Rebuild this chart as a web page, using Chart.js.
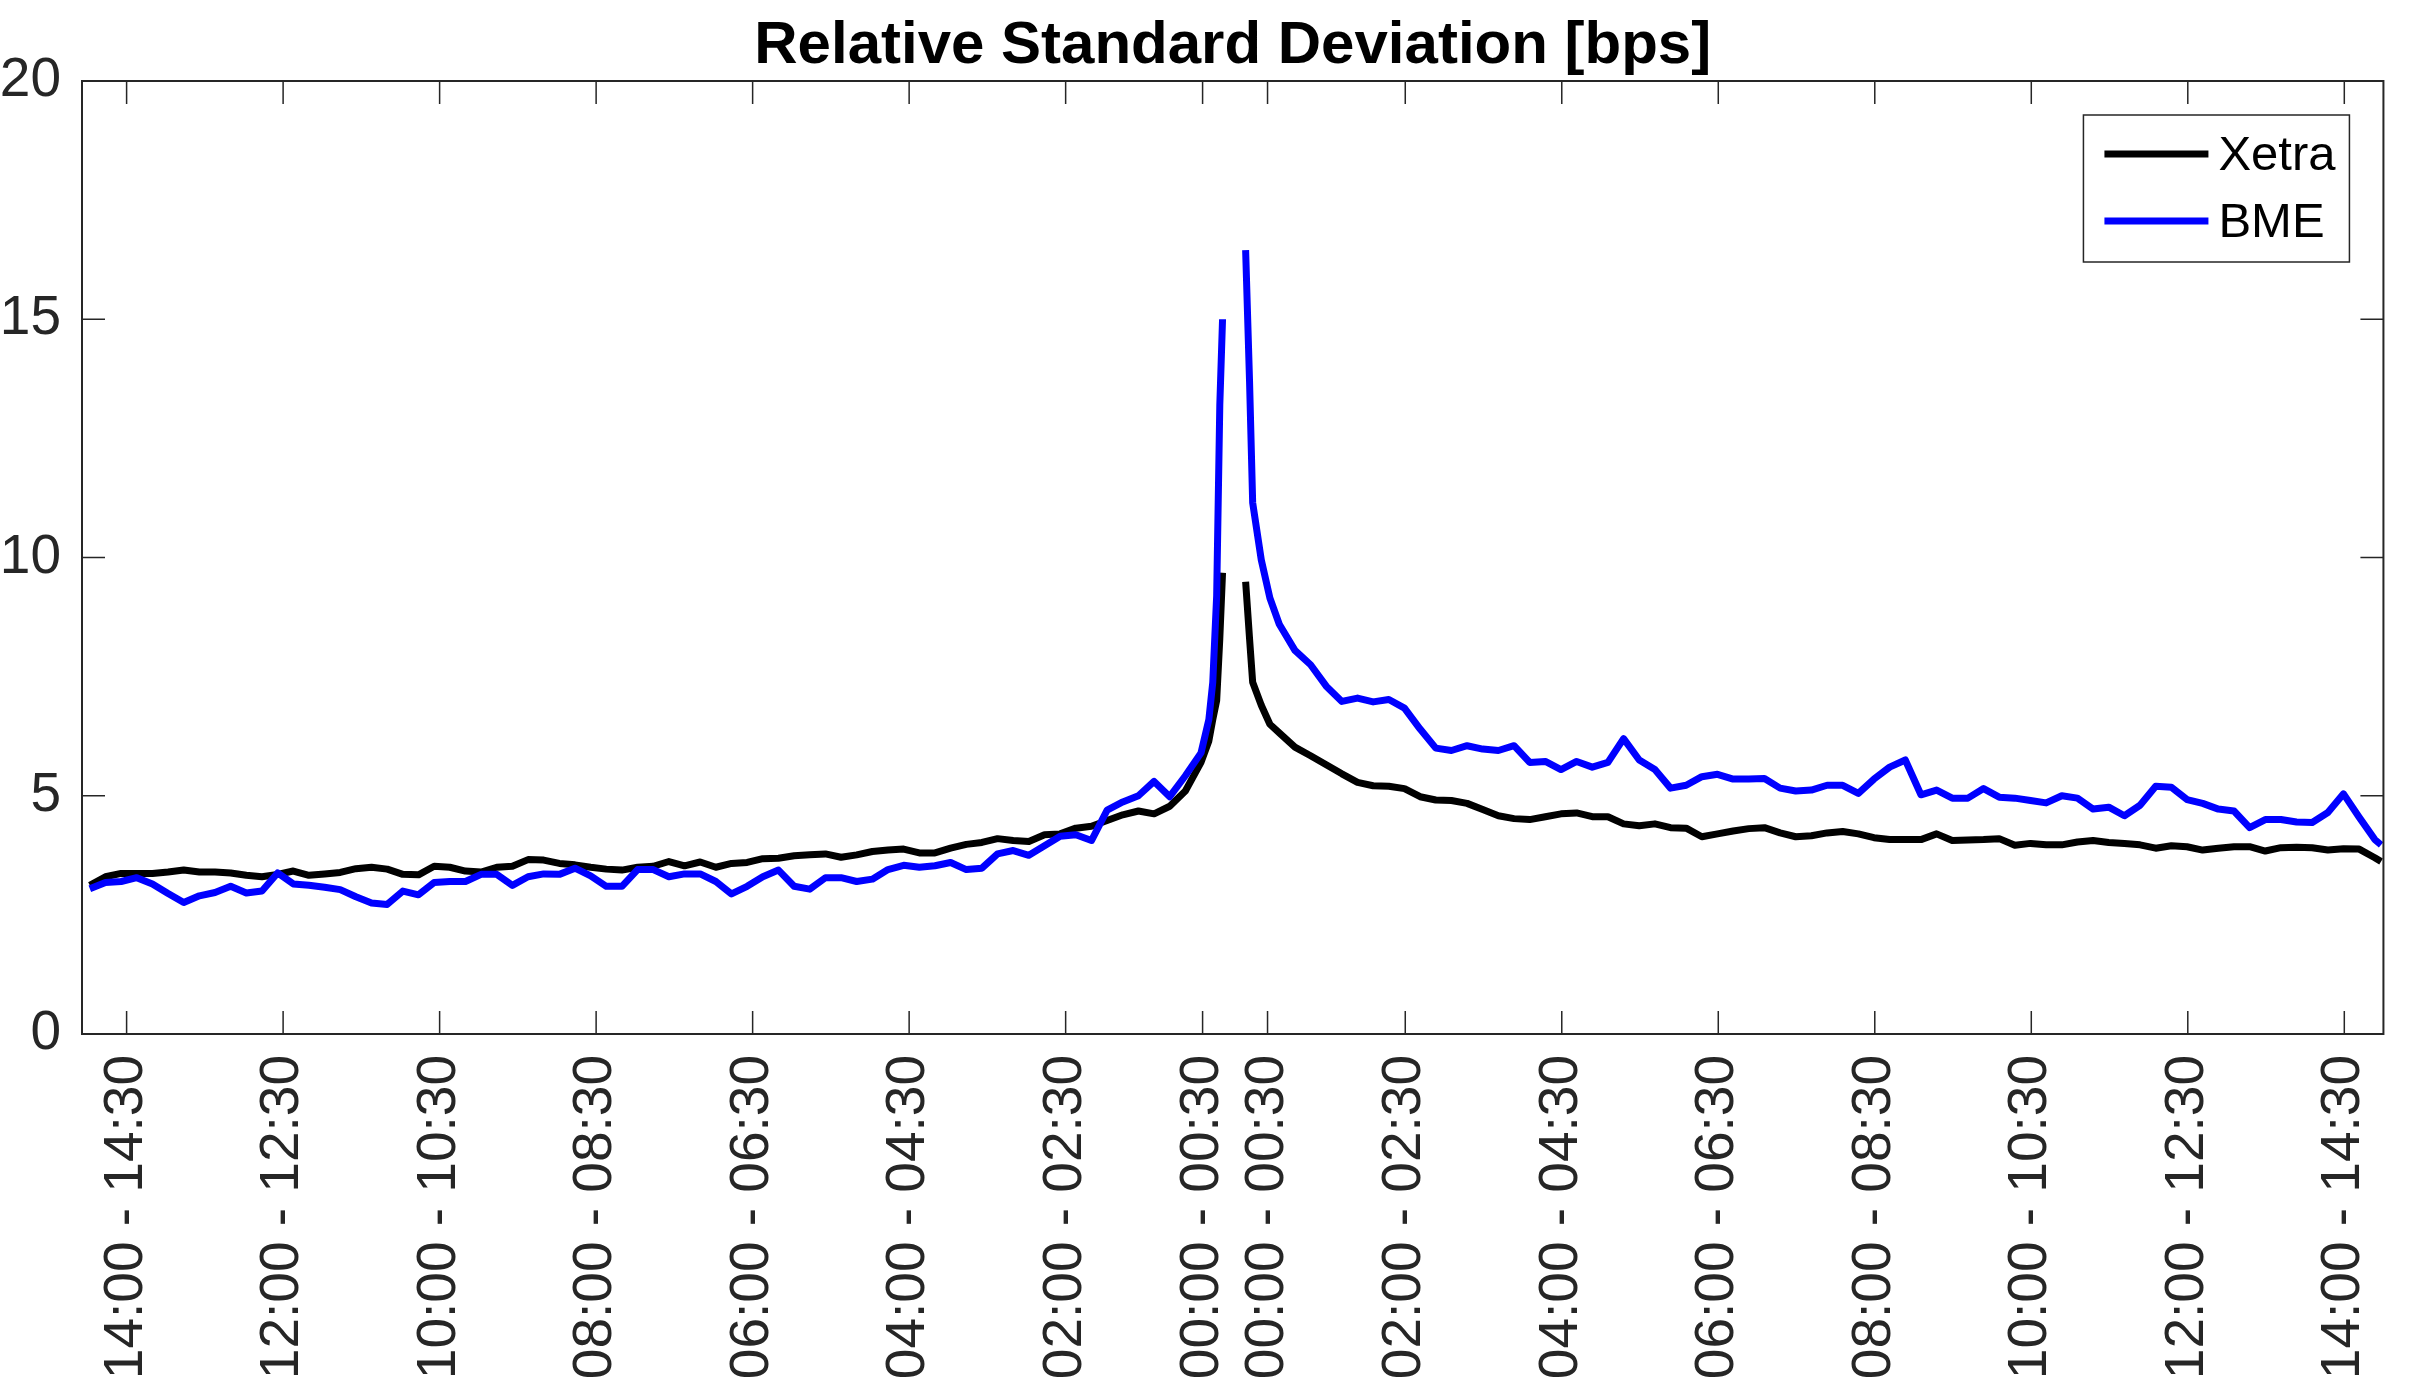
<!DOCTYPE html>
<html>
<head>
<meta charset="utf-8">
<script src="https://cdn.jsdelivr.net/npm/chart.js@4.4.1/dist/chart.umd.min.js"></script>
<style>
  html, body { margin: 0; padding: 0; background: #fff; }
  #wrap { width: 2432px; height: 1391px; }
</style>
</head>
<body>
<div id="wrap"><canvas id="rsd"></canvas></div>
<script>
// x axis runs in hours from the left edge of the plot
const tickHours = [0.57, 2.57, 4.57, 6.57, 8.57, 10.57, 12.57, 14.32,
                   15.15, 16.91, 18.91, 20.91, 22.91, 24.91, 26.91, 28.91];
const tickLabels = ['14:00 - 14:30', '12:00 - 12:30', '10:00 - 10:30', '08:00 - 08:30',
                    '06:00 - 06:30', '04:00 - 04:30', '02:00 - 02:30', '00:00 - 00:30',
                    '00:00 - 00:30', '02:00 - 02:30', '04:00 - 04:30', '06:00 - 06:30',
                    '08:00 - 08:30', '10:00 - 10:30', '12:00 - 12:30', '14:00 - 14:30'];
const chartTitle = 'Relative Standard Deviation [bps]';

// before the event (sampled every 0.2 h from 0.1 h), then the run-up to the spike
const xetraBefore = [3.12, 3.30, 3.37, 3.37, 3.37, 3.40, 3.44, 3.40, 3.40, 3.38,
                     3.33, 3.30, 3.35, 3.42, 3.33, 3.36, 3.39, 3.47, 3.50, 3.46,
                     3.35, 3.34, 3.52, 3.50, 3.42, 3.40, 3.50, 3.52, 3.66, 3.65,
                     3.58, 3.55, 3.50, 3.46, 3.44, 3.50, 3.52, 3.62, 3.53, 3.61,
                     3.50, 3.58, 3.60, 3.68, 3.69, 3.74, 3.76, 3.78, 3.71, 3.76,
                     3.83, 3.86, 3.88, 3.80, 3.80, 3.90, 3.98, 4.02, 4.10, 4.06,
                     4.04, 4.18, 4.20, 4.32, 4.36, 4.48, 4.60, 4.68, 4.62, 4.78,
                     5.10];
const bmeBefore = [3.05, 3.18, 3.20, 3.28, 3.15, 2.95, 2.76, 2.90, 2.97, 3.10,
                   2.96, 3.00, 3.38, 3.15, 3.12, 3.08, 3.03, 2.88, 2.75, 2.72,
                   3.00, 2.92, 3.18, 3.20, 3.20, 3.35, 3.35, 3.12, 3.30, 3.36,
                   3.35, 3.48, 3.32, 3.10, 3.10, 3.45, 3.45, 3.30, 3.36, 3.36,
                   3.20, 2.94, 3.10, 3.30, 3.44, 3.10, 3.04, 3.28, 3.28, 3.20,
                   3.25, 3.45, 3.54, 3.50, 3.53, 3.60, 3.45, 3.48, 3.78, 3.85,
                   3.75, 3.95, 4.15, 4.18, 4.06, 4.70, 4.87, 5.00, 5.30, 4.98,
                   5.42];
const spikeBeforeHours = [14.3, 14.4, 14.45, 14.5, 14.54, 14.575];
const xetraSpikeBefore = [5.70, 6.15, 6.60, 7.00, 8.30, 9.68];
const bmeSpikeBefore = [5.90, 6.60, 7.38, 9.20, 13.2, 15.0];

// after the event: the decay from the spike, then every 0.2 h from 15.3 h
const spikeAfterHours = [14.87, 14.92, 14.96, 15.07, 15.18];
const xetraSpikeAfter = [9.49, 8.30, 7.38, 6.90, 6.50];
const bmeSpikeAfter = [16.45, 13.7, 11.15, 9.95, 9.15];
const xetraAfter = [6.32, 6.02, 5.84, 5.65, 5.46, 5.28, 5.21, 5.20, 5.15, 4.98,
                    4.91, 4.90, 4.84, 4.71, 4.58, 4.52, 4.50, 4.56, 4.62, 4.64,
                    4.56, 4.56, 4.41, 4.37, 4.41, 4.33, 4.32, 4.14, 4.20, 4.26,
                    4.31, 4.33, 4.22, 4.14, 4.16, 4.22, 4.25, 4.20, 4.12, 4.08,
                    4.08, 4.08, 4.20, 4.06, 4.07, 4.08, 4.10, 3.96, 4.00, 3.97,
                    3.97, 4.03, 4.06, 4.02, 4.00, 3.97, 3.90, 3.95, 3.93, 3.86,
                    3.90, 3.93, 3.93, 3.84, 3.91, 3.92, 3.91, 3.86, 3.89, 3.88,
                    3.70];
const bmeAfter = [8.60, 8.05, 7.75, 7.30, 6.98, 7.05, 6.97, 7.02, 6.84, 6.40,
                  6.00, 5.95, 6.05, 5.98, 5.95, 6.05, 5.70, 5.72, 5.55, 5.72,
                  5.60, 5.70, 6.20, 5.75, 5.55, 5.16, 5.22, 5.40, 5.45, 5.35,
                  5.35, 5.36, 5.16, 5.10, 5.12, 5.22, 5.22, 5.05, 5.35, 5.60,
                  5.75, 5.02, 5.12, 4.95, 4.95, 5.15, 4.97, 4.95, 4.90, 4.85,
                  5.00, 4.95, 4.72, 4.76, 4.58, 4.80, 5.20, 5.18, 4.92, 4.84,
                  4.72, 4.68, 4.33, 4.50, 4.50, 4.45, 4.44, 4.65, 5.04, 4.55,
                  4.08];
const lastHour = 29.38;
const xetraLast = 3.62;
const bmeLast = 3.97;

const AXIS_COLOR = '#262626';
const FONT = "'Liberation Sans', Arial, Helvetica, sans-serif";
const TICK_LEN = 23;

function grid(from, count) {
    return Array.from({ length: count }, (_, i) => Math.round((from + i * 0.2) * 100) / 100);
}

const hoursBefore = grid(0.1, xetraBefore.length).concat(spikeBeforeHours);
const hoursAfter = spikeAfterHours.concat(grid(15.3, xetraAfter.length), [lastHour]);

function series(before, spikeBefore, spikeAfter, after, last) {
    const left = before.concat(spikeBefore).map((v, i) => ({ x: hoursBefore[i], y: v }));
    const right = spikeAfter.concat(after, [last]).map((v, i) => ({ x: hoursAfter[i], y: v }));
    // null point breaks the line between the two halves
    return left.concat([{ x: 14.72, y: null }], right);
}

// title centred over the plot box, not the whole canvas
const axesTitle = {
    id: 'axesTitle',
    afterDraw(chart) {
        const { ctx, chartArea: a } = chart;
        ctx.save();
        ctx.font = 'bold 60px ' + FONT;
        ctx.fillStyle = '#000';
        ctx.textAlign = 'center';
        ctx.textBaseline = 'alphabetic';
        ctx.fillText(chartTitle, (a.left + a.right) / 2, a.top - 18);
        ctx.restore();
    }
};

const framePlugin = {
    id: 'frame',
    afterDatasetsDraw(chart) {
        const { ctx, chartArea: a, scales: { x, y } } = chart;
        ctx.save();
        ctx.strokeStyle = AXIS_COLOR;
        ctx.lineWidth = 1.5;
        ctx.beginPath();
        tickHours.forEach(h => {
            const px = x.getPixelForValue(h);
            ctx.moveTo(px, a.bottom); ctx.lineTo(px, a.bottom - TICK_LEN);
            ctx.moveTo(px, a.top); ctx.lineTo(px, a.top + TICK_LEN);
        });
        y.ticks.forEach(t => {
            const py = y.getPixelForValue(t.value);
            ctx.moveTo(a.left, py); ctx.lineTo(a.left + TICK_LEN, py);
            ctx.moveTo(a.right, py); ctx.lineTo(a.right - TICK_LEN, py);
        });
        ctx.stroke();
        ctx.lineWidth = 2;
        ctx.strokeRect(a.left, a.top, a.width, a.height);
        ctx.restore();
    }
};

const boxLegend = {
    id: 'boxLegend',
    afterDraw(chart) {
        const { ctx, chartArea: a } = chart;
        const w = 266, h = 147;
        const left = a.right - 34 - w, top = a.top + 34;
        ctx.save();
        ctx.fillStyle = '#fff';
        ctx.fillRect(left, top, w, h);
        ctx.strokeStyle = AXIS_COLOR;
        ctx.lineWidth = 1.5;
        ctx.strokeRect(left, top, w, h);
        ctx.font = '49px ' + FONT;
        ctx.textBaseline = 'middle';
        chart.data.datasets.forEach((ds, i) => {
            const ly = top + 39 + i * 67;
            ctx.strokeStyle = ds.borderColor;
            ctx.lineWidth = ds.borderWidth;
            ctx.beginPath();
            ctx.moveTo(left + 21, ly);
            ctx.lineTo(left + 125, ly);
            ctx.stroke();
            ctx.fillStyle = '#000';
            ctx.fillText(ds.label, left + 135, ly + 2);
        });
        ctx.restore();
    }
};

new Chart(document.getElementById('rsd').getContext('2d'), {
    type: 'line',
    data: {
        datasets: [
            {
                label: 'Xetra',
                data: series(xetraBefore, xetraSpikeBefore, xetraSpikeAfter, xetraAfter, xetraLast),
                borderColor: '#000000',
                borderWidth: 7,
                borderJoinStyle: 'round',
                pointRadius: 0,
                tension: 0,
                spanGaps: false,
                order: 1
            },
            {
                label: 'BME',
                data: series(bmeBefore, bmeSpikeBefore, bmeSpikeAfter, bmeAfter, bmeLast),
                borderColor: '#0000ff',
                borderWidth: 7,
                borderJoinStyle: 'round',
                pointRadius: 0,
                tension: 0,
                spanGaps: false,
                order: 0
            }
        ]
    },
    options: {
        responsive: true,
        maintainAspectRatio: false,
        devicePixelRatio: 1,
        animation: false,
        layout: { padding: { left: 0, right: 41, top: 81, bottom: 0 } },
        plugins: {
            legend: { display: false },
            tooltip: { enabled: false },
            title: { display: false }
        },
        scales: {
            x: {
                type: 'linear',
                min: 0,
                max: 29.41,
                grid: { display: false, drawTicks: false },
                border: { display: false },
                afterBuildTicks: (scale) => { scale.ticks = tickHours.map(v => ({ value: v })); },
                afterFit: (scale) => { scale.height = 357; },
                ticks: {
                    autoSkip: false,
                    minRotation: 90,
                    maxRotation: 90,
                    padding: 21,
                    color: AXIS_COLOR,
                    font: { family: FONT, size: 55 },
                    callback: (value, index) => tickLabels[index]
                }
            },
            y: {
                min: 0,
                max: 20,
                grid: { display: false, drawTicks: false },
                border: { display: false },
                afterFit: (scale) => { scale.width = 82; },
                ticks: {
                    stepSize: 5,
                    padding: 21,
                    color: AXIS_COLOR,
                    font: { family: FONT, size: 55 }
                }
            }
        }
    },
    plugins: [framePlugin, boxLegend, axesTitle]
});
</script>
</body>
</html>
